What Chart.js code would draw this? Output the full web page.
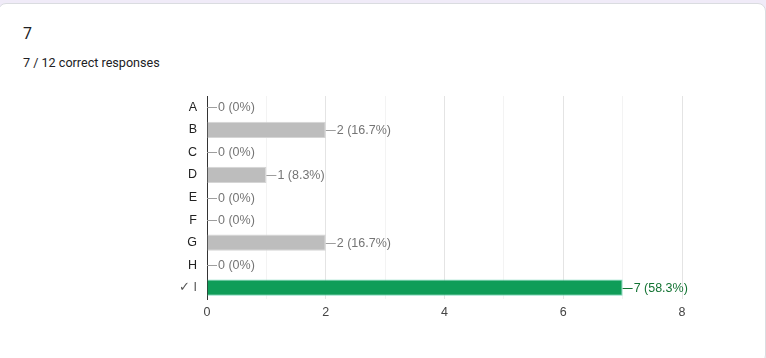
<!DOCTYPE html>
<html><head><meta charset="utf-8">
<script src="https://cdn.jsdelivr.net/npm/chart.js@4"></script>
<style>
html,body{margin:0;padding:0;background:#f0ebf8;width:766px;height:358px;overflow:hidden;font-family:Roboto,Arial,sans-serif;}
#card{position:absolute;left:-2px;top:3px;width:768px;height:360px;background:#fff;border-radius:8px;border:1px solid #dadce0;box-sizing:border-box;}
#title{position:absolute;left:23px;top:24px;font-size:16px;color:#202124;}
#sub{position:absolute;left:23px;top:55px;font-size:12.6px;color:#202124;}
#wrap{position:absolute;left:0;top:0;width:766px;height:358px;}
</style></head>
<body>
<div id="card"></div>
<div id="title">7</div>
<div id="sub">7 / 12 correct responses</div>
<div id="wrap"><canvas id="c" width="766" height="358"></canvas></div>
<script>
const categories = ['A','B','C','D','E','F','G','H','\u2713 I'];
const counts = [0,2,0,1,0,0,2,0,7];
const totalResponses = 12;
const correctIndex = 8;
const xTicks = [0,2,4,6,8];
const FONT = '"Liberation Sans", Arial, sans-serif';

const labelPlugin = {
  id:'labels',
  afterDatasetsDraw(chart){
    const ctx = chart.ctx;
    const meta = chart.getDatasetMeta(0);
    ctx.save();
    ctx.font = '12.5px ' + FONT;
    ctx.textBaseline = 'middle';
    meta.data.forEach((bar,i)=>{
      const v = counts[i];
      const pct = Math.round(v/totalResponses*1000)/10;
      const txt = v + ' (' + pct + '%)';
      const x0 = bar.x, y = Math.round(bar.y)+0.5;
      const col = i===correctIndex ? '#137333' : '#757575';
      ctx.strokeStyle = i===correctIndex ? '#137333' : '#9e9e9e';
      ctx.lineWidth = 1;
      ctx.beginPath(); ctx.moveTo(x0, y); ctx.lineTo(x0+10, y); ctx.stroke();
      ctx.fillStyle = col;
      ctx.fillText(txt, x0+11, y);
    });
    ctx.restore();
  }
};

new Chart(document.getElementById('c'),{
  type:'bar',
  data:{labels:categories,datasets:[{
    data:counts,
    backgroundColor:counts.map((v,i)=>i===correctIndex?'#0f9d58':'#bdbdbd'),
    borderColor:counts.map((v,i)=>i===correctIndex?'#7fdcc0':'#d5d5d5'),
    borderWidth:1,
    borderSkipped:'left',
    barPercentage:0.72,
    categoryPercentage:1.0
  }]},
  options:{
    indexAxis:'y',
    responsive:false,
    animation:false,
    layout:{padding:{left:0,right:84,top:96,bottom:34}},
    plugins:{legend:{display:false},tooltip:{enabled:false}},
    scales:{
      x:{min:0,max:8,
        afterFit(s){s.height=25;},
        afterBuildTicks(s){s.ticks=[0,1,2,3,4,5,6,7,8].map(v=>({value:v}));},
        ticks:{color:'#444',font:{size:12.5,family:FONT},padding:6,
          callback:(v)=>xTicks.includes(v)?String(v):''},
        grid:{color:(c)=>c.tick&&c.tick.value%2===0?'#e4e4e4':'#f3f3f3',drawTicks:false},
        border:{display:false}
      },
      y:{
        afterFit(s){s.width=207;},
        ticks:{color:(c)=>c.index===correctIndex?'#555':'#222',font:{size:12.5,family:FONT},padding:10},
        grid:{display:false,drawTicks:false},
        border:{display:true,color:'#333',width:1}
      }
    }
  },
  plugins:[labelPlugin]
});
</script>
</body></html>
